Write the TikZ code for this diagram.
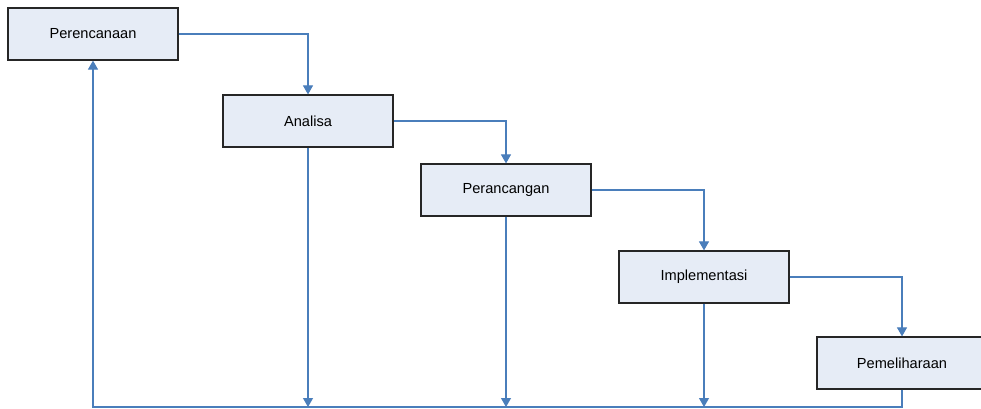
\documentclass[tikz,border=0pt]{standalone}
\usepackage{fontspec}
\setmainfont{Liberation Sans}
\usetikzlibrary{arrows.meta}
\definecolor{flowblue}{HTML}{4A7EBB}
\definecolor{boxfill}{HTML}{E6ECF6}
\begin{document}
\begin{tikzpicture}[x=1pt,y=-1pt,
  stage/.style={draw=black!85, line width=1.2pt, fill=boxfill,
    minimum width=170pt, minimum height=52pt, inner sep=0pt,
    font=\fontsize{14.6pt}{17pt}\selectfont},
  flow/.style={draw=flowblue, line width=1.1pt,
    -{Triangle[width=10pt,length=9pt]}},
  link/.style={draw=flowblue, line width=1.1pt}]
\clip (0,0) rectangle (981,408);
\useasboundingbox (0,0) rectangle (981,408);
\fill[white] (0,0) rectangle (981,408);

\node[stage] (p1) at (93,34)  {Perencanaan};
\node[stage] (p2) at (308,121) {Analisa};
\node[stage] (p3) at (506,190) {Perancangan};
\node[stage] (p4) at (704,277) {Implementasi};
\node[stage] (p5) at (902,363) {Pemeliharaan};

% forward steps of the cascade
\draw[flow] (p1.east) -| (p2.north);
\draw[flow] (p2.east) -| (p3.north);
\draw[flow] (p3.east) -| (p4.north);
\draw[flow] (p4.east) -| (p5.north);

% feedback rail along the bottom
\coordinate (b2) at (308,407);
\coordinate (b3) at (506,407);
\coordinate (b4) at (704,407);
\coordinate (bl) at (93,407);
\draw[flow] (p2.south) -- (b2);
\draw[flow] (p3.south) -- (b3);
\draw[flow] (p4.south) -- (b4);
\draw[flow] (p5.south) |- (bl) -- (p1.south);
\end{tikzpicture}
\end{document}
